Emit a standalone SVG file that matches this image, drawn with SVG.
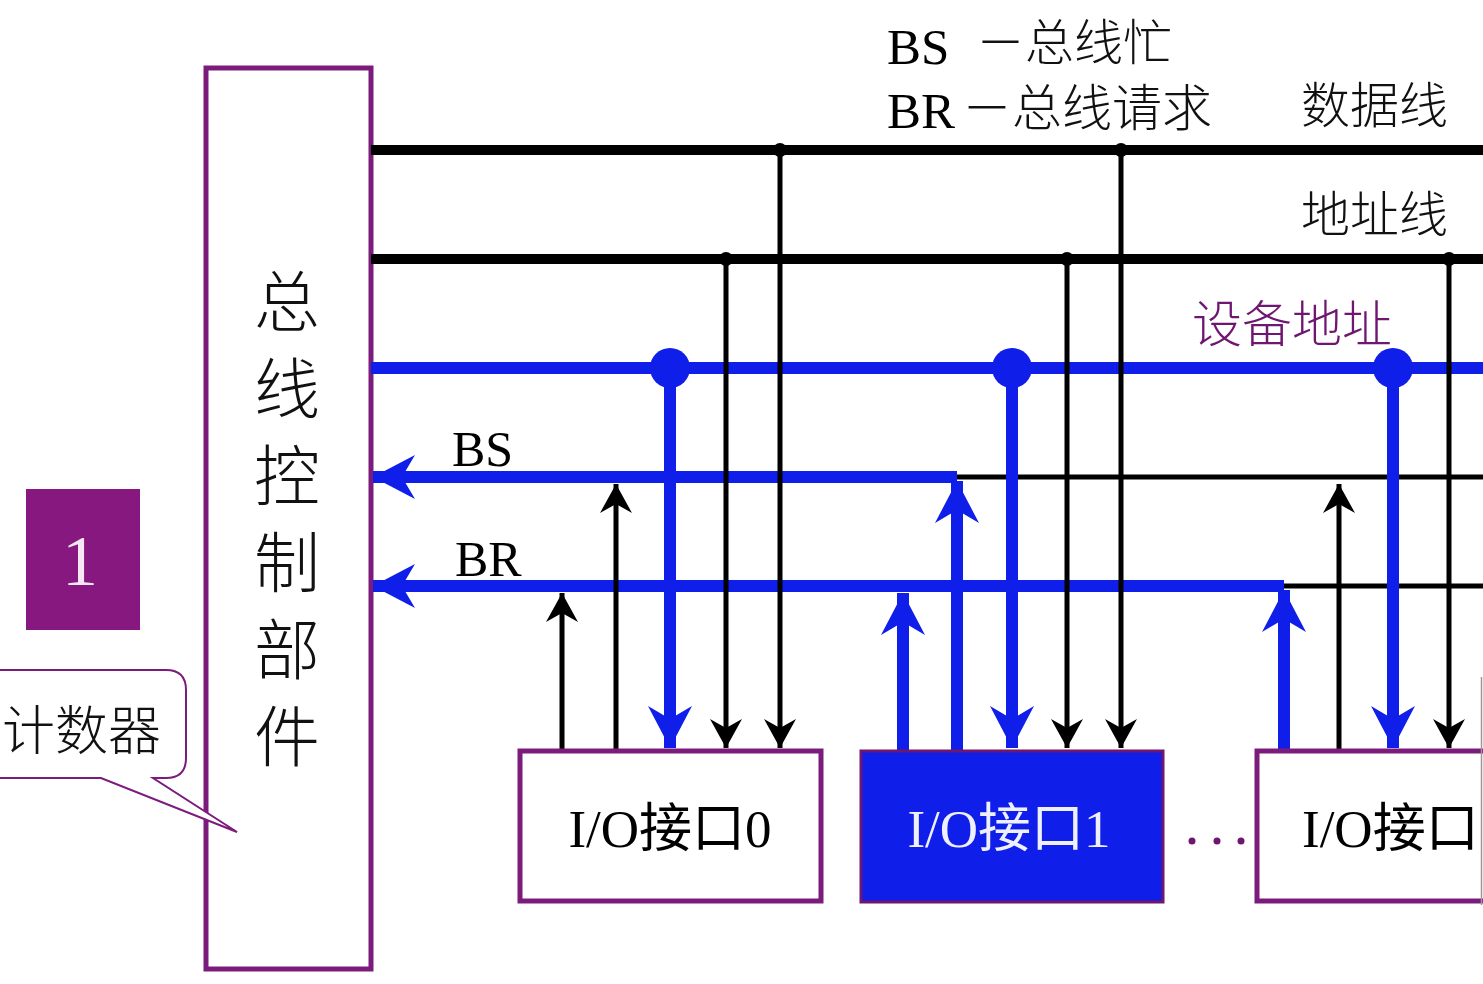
<svg xmlns="http://www.w3.org/2000/svg" width="1483" height="984" viewBox="0 0 1483 984">
<style>
.t{font-family:"Liberation Serif","Noto Sans CJK SC",serif;fill:#000}
.cj{font-family:"Noto Sans CJK SC","Liberation Sans",sans-serif;font-weight:300;fill:#111}
.bus{stroke:#000;stroke-width:10;fill:none}
.thin{stroke:#000;stroke-width:5;fill:none}
.blue{stroke:#0f1ee8;stroke-width:12;fill:none}
.box{stroke:#7b1c7d;stroke-width:5;fill:#fff}
</style>
<defs>
<marker id="ab" markerUnits="userSpaceOnUse" viewBox="-30 -17 31 34" refX="0" refY="0" markerWidth="31" markerHeight="34" orient="auto">
<path d="M0,0 L-29,-16 L-20,0 L-29,16 Z" fill="#000"/>
</marker>
<marker id="au" markerUnits="userSpaceOnUse" viewBox="-44 -23 45 46" refX="0" refY="0" markerWidth="45" markerHeight="46" orient="auto">
<path d="M0,0 L-42,-22 L-29,0 L-42,22 Z" fill="#0f1ee8"/>
</marker>
</defs>
<rect width="1483" height="984" fill="#fff"/>

<g id="labels">
<text class="t" x="887" y="64" font-size="51">BS</text>
<text class="cj" x="976" y="60" font-size="49">－总线忙</text>
<text class="t" x="887" y="128" font-size="51">BR</text>
<text class="cj" x="962" y="126" font-size="50">－总线请求</text>
<text class="cj" x="1301" y="123" font-size="49">数据线</text>
<text class="cj" x="1301" y="232" font-size="49">地址线</text>
<text class="cj" x="1192" y="342" font-size="50" style="fill:#6e1670">设备地址</text>
<text class="t" x="452" y="466" font-size="50">BS</text>
<text class="t" x="455" y="576" font-size="50">BR</text>
</g>

<g id="bus-controller">
<rect class="box" x="206" y="68" width="165" height="901"/>
<g class="cj" font-size="66" text-anchor="middle">
<text x="287" y="326">总</text>
<text x="287" y="413">线</text>
<text x="287" y="500">控</text>
<text x="287" y="587">制</text>
<text x="287" y="674">部</text>
<text x="287" y="761">件</text>
</g>
</g>

<g id="counter-badge">
<rect x="26" y="489" width="114" height="141" fill="#87187f"/>
<text class="t" x="80" y="585" font-size="72" text-anchor="middle" style="fill:#f6e8f2">1</text>
</g>

<g id="callout">
<path d="M-10,670 L166,670 Q186,670 186,690 L186,758 Q186,778 166,778 L153,778 L237,832 L101,778 L-10,778 Z" fill="#fff" stroke="#7b1c7d" stroke-width="2"/>
<text class="cj" x="2" y="750" font-size="53">计数器</text>
</g>

<g id="connectors">
<line class="bus" x1="371" y1="150" x2="1483" y2="150"/>
<line class="bus" x1="371" y1="259" x2="1483" y2="259"/>
<line class="blue" x1="371" y1="368" x2="1483" y2="368"/>
<line class="thin" x1="957" y1="477" x2="1483" y2="477"/>
<line class="thin" x1="1284" y1="586" x2="1483" y2="586"/>
<line class="blue" x1="957" y1="477" x2="373" y2="477" marker-end="url(#au)"/>
<line class="blue" x1="1284" y1="586" x2="373" y2="586" marker-end="url(#au)"/>
<g fill="#000">
<circle cx="780" cy="150" r="7"/><circle cx="1121" cy="150" r="7"/>
<circle cx="726" cy="259" r="7"/><circle cx="1067" cy="259" r="7"/><circle cx="1449" cy="259" r="7"/>
</g>
<g fill="#0f1ee8">
<circle cx="670" cy="368" r="20"/><circle cx="1012" cy="368" r="20"/><circle cx="1393" cy="368" r="20"/>
</g>
<line class="thin" x1="562" y1="750" x2="562" y2="593" marker-end="url(#ab)"/>
<line class="thin" x1="616" y1="750" x2="616" y2="484" marker-end="url(#ab)"/>
<line class="blue" x1="670" y1="368" x2="670" y2="748" marker-end="url(#au)"/>
<line class="thin" x1="726" y1="259" x2="726" y2="748" marker-end="url(#ab)"/>
<line class="thin" x1="780" y1="150" x2="780" y2="748" marker-end="url(#ab)"/>
<line class="blue" x1="903" y1="752" x2="903" y2="593" marker-end="url(#au)"/>
<line class="blue" x1="957" y1="752" x2="957" y2="481" marker-end="url(#au)"/>
<line class="blue" x1="1012" y1="368" x2="1012" y2="748" marker-end="url(#au)"/>
<line class="thin" x1="1067" y1="259" x2="1067" y2="748" marker-end="url(#ab)"/>
<line class="thin" x1="1121" y1="150" x2="1121" y2="748" marker-end="url(#ab)"/>
<line class="blue" x1="1284" y1="752" x2="1284" y2="590" marker-end="url(#au)"/>
<line class="thin" x1="1339" y1="750" x2="1339" y2="484" marker-end="url(#ab)"/>
<line class="blue" x1="1393" y1="368" x2="1393" y2="748" marker-end="url(#au)"/>
<line class="thin" x1="1449" y1="259" x2="1449" y2="748" marker-end="url(#ab)"/>
</g>

<g id="io0">
<rect class="box" x="520" y="751" width="301" height="150"/>
<text class="t" x="670" y="847" font-size="53" text-anchor="middle">I/O接口0</text>
</g>
<g id="io1">
<rect x="861" y="751" width="302" height="151" fill="#0f1ee8" stroke="#6e1670" stroke-width="3"/>
<text class="t" x="1009" y="847" font-size="53" text-anchor="middle" style="fill:#eef0ff">I/O接口1</text>
</g>
<g id="dots" fill="#6e1670">
<circle cx="1192" cy="841" r="3.5"/><circle cx="1217" cy="841" r="3.5"/><circle cx="1241" cy="841" r="3.5"/>
</g>
<g id="io2">
<rect class="box" x="1257" y="751" width="260" height="150"/>
<text class="t" x="1302" y="847" font-size="53">I/O接口</text>
<line x1="1481.5" y1="677" x2="1481.5" y2="905" stroke="#999" stroke-width="1.5"/>
</g>
</svg>
